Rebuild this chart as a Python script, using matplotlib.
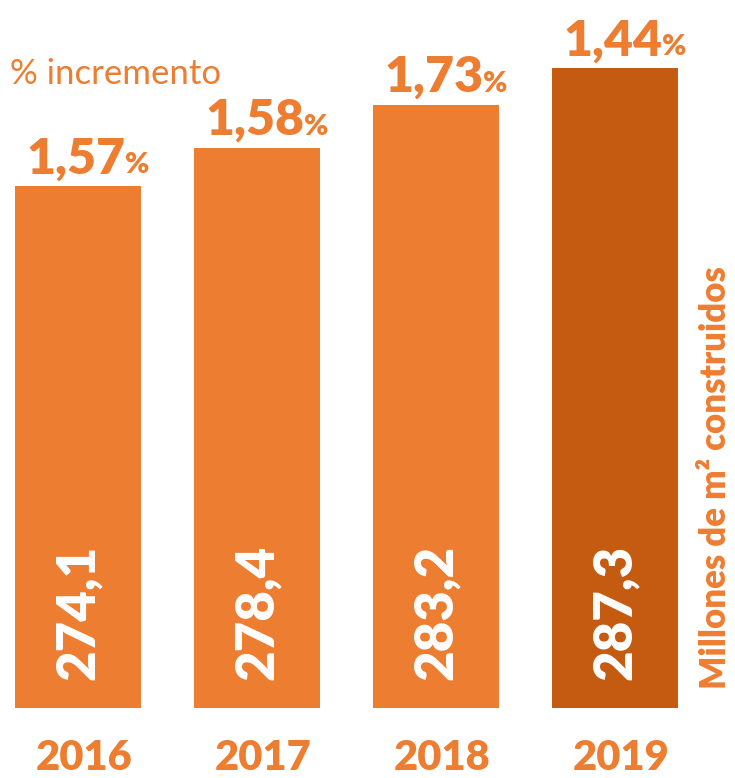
import matplotlib
matplotlib.use("Agg")
import matplotlib.pyplot as plt
import matplotlib.transforms as mtransforms

# Datos del gráfico
years = ["2016", "2017", "2018", "2019"]
surface = [274.1, 278.4, 283.2, 287.3]          # millones de m2 construidos
increment = ["1,57", "1,58", "1,73", "1,44"]    # % incremento
surface_labels = ["274,1", "278,4", "283,2", "287,3"]

ORANGE = "#ED7D31"
DARK_ORANGE = "#C55A11"
W = "heavy"

plt.rcParams["font.family"] = ["Lato", "DejaVu Sans"]

fig = plt.figure(figsize=(7.35, 7.78), dpi=100)
ax = fig.add_axes([0, 70 / 778, 1, 708 / 778])

colors = [ORANGE] * (len(years) - 1) + [DARK_ORANGE]
x = list(range(len(years)))
bars = ax.bar(x, surface, width=0.70, color=colors)

ax.set_xlim(-0.436, 3.67)
ax.set_ylim(215.7, 294.9)
ax.axis("off")

for i, bar in enumerate(bars):
    top = bar.get_height()
    # porcentaje de incremento encima de la barra
    ax.annotate(increment[i], xy=(x[i], top), xytext=(34, 9),
                textcoords="offset points", ha="right", va="baseline",
                fontsize=36, fontweight=W, color=ORANGE)
    ax.annotate("%", xy=(x[i], top), xytext=(34, 9),
                textcoords="offset points", ha="left", va="baseline",
                fontsize=21, fontweight=W, color=ORANGE)
    # valor dentro de la barra
    ax.annotate(surface_labels[i], xy=(x[i], 215.7), xytext=(0, 20),
                textcoords="offset points", ha="center", va="bottom",
                rotation=90, fontsize=38, fontweight=W, color="white")

# años bajo las barras
trans = mtransforms.blended_transform_factory(ax.transData, fig.transFigure)
for i, yr in enumerate(years):
    ax.text(x[i] + 0.036, 1 - 758 / 778, yr, transform=trans, ha="center",
            va="center", fontsize=30, fontweight=W, color=ORANGE)

fig.text(10 / 735, 1 - 74 / 778, "% incremento", ha="left", va="center",
         fontsize=25, color=ORANGE)
fig.text(716 / 735, 1 - 478 / 778, "Millones de m² construidos", ha="center",
         va="center", rotation=90, fontsize=25, fontweight=W,
         color=ORANGE)

fig.savefig("out.png", dpi=100)
